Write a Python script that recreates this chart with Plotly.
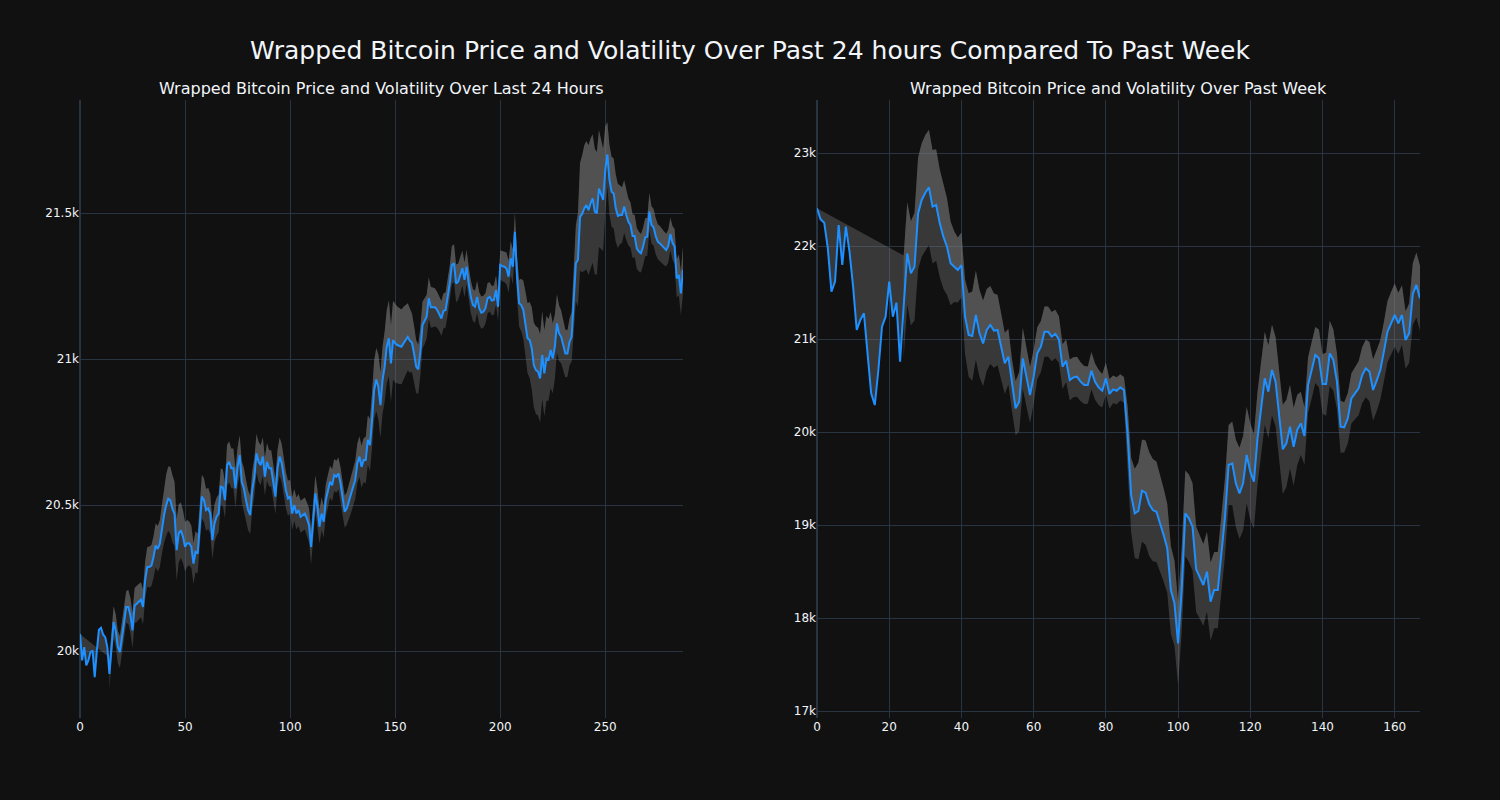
import plotly.graph_objects as go
from plotly.subplots import make_subplots

# ---- Last 24 hours (5-minute steps) ----
day_price = [
    20059, 19968, 20014, 19951, 19968, 19997, 20002, 19911, 20000, 20073,
    20080, 20057, 20048, 20014, 19922, 20025, 20099, 20071, 20014, 19997,
    20048, 20105, 20151, 20151, 20122, 20071, 20156, 20162, 20168, 20176,
    20151, 20242, 20288, 20288, 20293, 20322, 20362, 20350, 20368, 20419,
    20465, 20499, 20522, 20516, 20487, 20470, 20346, 20403, 20414, 20392,
    20357, 20369, 20369, 20357, 20300, 20340, 20334, 20426, 20529, 20517,
    20483, 20489, 20471, 20380, 20437, 20460, 20471, 20563, 20560, 20517,
    20637, 20648, 20626, 20626, 20557, 20631, 20671, 20580, 20557, 20517,
    20483, 20466, 20551, 20597, 20677, 20648, 20637, 20666, 20597, 20648,
    20626, 20626, 20580, 20529, 20626, 20666, 20643, 20597, 20551, 20523,
    20529, 20471, 20500, 20471, 20483, 20460, 20466, 20471, 20454, 20431,
    20357, 20449, 20540, 20494, 20426, 20471, 20443, 20517, 20546, 20580,
    20568, 20603, 20597, 20608, 20574, 20523, 20477, 20489, 20511, 20534,
    20563, 20586, 20643, 20666, 20631, 20654, 20654, 20723, 20705, 20791,
    20894, 20930, 20905, 20842, 20928, 20974, 21042, 21071, 20985, 21065,
    21054, 21048, 21045, 21042, 21054, 21065, 21076, 21063, 21056, 21019,
    20974, 20965, 21025, 21116, 21128, 21145, 21208, 21177, 21177, 21177,
    21168, 21156, 21139, 21165, 21168, 21213, 21259, 21322, 21328, 21259,
    21265, 21288, 21311, 21271, 21316, 21259, 21213, 21185, 21179, 21213,
    21174, 21159, 21162, 21174, 21208, 21213, 21200, 21202, 21236, 21179,
    21322, 21318, 21316, 21310, 21282, 21345, 21316, 21436, 21282, 21191,
    21185, 21168, 21122, 21071, 21065, 21037, 20979, 20962, 20957, 20934,
    21014, 20951, 21002, 20997, 21031, 21002, 21042, 21122, 21088, 21076,
    21048, 21019, 21019, 21059, 21076, 21200, 21328, 21340, 21487, 21497,
    21516, 21527, 21510, 21533, 21550, 21505, 21499, 21584, 21567, 21545,
    21647, 21701, 21613, 21573, 21567, 21516, 21490, 21493, 21493, 21522,
    21493, 21470, 21459, 21421, 21421, 21379, 21368, 21362, 21385, 21417,
    21419, 21505, 21459, 21451, 21421, 21402, 21396, 21387, 21379, 21373,
    21387, 21428, 21398, 21385, 21276, 21288, 21225, 21305,
]

# band half-width (volatility); None where the rolling window is not yet full
day_vol = [None] * 14 + [
    55, 55, 55, 55, 55, 55, 55,
    55, 55, 58, 60, 60, 60, 62, 62, 60, 60,
    65, 68, 70, 70, 72, 75, 78, 80, 85,
    95, 105, 110, 115, 115, 110, 105, 100,
    95, 90, 85, 80, 75, 72, 70, 70, 68, 70,
    75, 75, 72, 70, 68, 65, 65, 65, 65, 62, 62, 62,
    70, 70, 68, 68, 66, 65, 68, 70, 70, 70, 68, 66, 65, 65, 66,
    68, 68, 66, 65, 65, 62, 62, 60, 60, 62, 65, 66, 65, 62, 60,
    58, 56, 55, 55, 55, 55, 55, 55, 55, 58, 60,
    62, 62, 60, 58, 56, 55, 55, 55, 55, 55,
    55, 55, 55, 55, 55, 55, 56, 58, 60, 62, 65, 68, 70, 72,
    75, 80, 85, 90, 95, 100, 108, 112, 112, 115, 120,
    125, 130, 132, 135, 135, 132, 130, 128, 125, 120, 115, 110, 100, 95, 90,
    85, 82, 80, 78, 75, 72, 70, 68, 65, 62, 60, 60,
    60, 60, 62, 62, 65, 65, 65, 62, 62, 60, 60, 58, 58, 56, 55, 55, 55, 55,
    55, 55, 52, 52, 50, 50, 50, 50, 50, 50, 52, 52, 55, 55, 58, 60,
    65, 70, 80, 90, 100, 110, 120, 130, 140, 145, 150, 150, 152, 150, 148, 145, 140, 130, 120, 110,
    100, 95, 90, 85, 82, 80, 80, 85, 100,
    130, 160, 185, 200, 215, 220, 222, 222, 220, 215, 210, 200, 190, 175, 150,
    110, 120, 120, 120, 115, 110, 100, 95, 90, 85, 80, 78,
    75, 72, 70, 68, 66, 65, 65, 65, 64, 64, 63, 62, 60, 60, 58, 58, 56, 56, 56, 58, 60, 65, 70, 75, 80,
]

# ---- Past week (hourly steps) ----
week_price = [
    22405, 22287, 22251, 21975, 21509, 21617, 22226, 21796, 22208, 21939,
    21563, 21097, 21205, 21276, 20846, 20416, 20290, 20667, 21133, 21240,
    21617, 21240, 21391, 20756, 21348, 21921, 21706, 21778, 22351, 22495,
    22573, 22631, 22423, 22441, 22244, 22100, 21993, 21814, 21778, 21742,
    21796, 21240, 21043, 21032, 21258, 21061, 20953, 21097, 21151, 21090,
    21097, 20918, 20738, 20810, 20505, 20255, 20326, 20792, 20595, 20398,
    20595, 20846, 20918, 21079, 21079, 21025, 21054, 20996, 20703, 20767,
    20559, 20588, 20595, 20541, 20505, 20505, 20660, 20541, 20480, 20444,
    20577, 20409, 20459, 20444, 20480, 20452, 19986, 19323, 19126, 19151,
    19369, 19348, 19226, 19161, 19143, 19025, 18893, 18749, 18301, 18158,
    17728, 18301, 19126, 19072, 18982, 18524, 18445, 18355, 18498, 18176,
    18301, 18301, 18695, 19090, 19645, 19663, 19448, 19341, 19448, 19753,
    19574, 19466, 19932, 20273, 20577, 20434, 20667, 20541, 20201, 19814,
    19878, 20057, 19842, 20022, 20093, 19957, 20505, 20660, 20828, 20792,
    20516, 20516, 20846, 20774, 20541, 20057, 20050, 20147, 20362, 20416,
    20470, 20613, 20685, 20649, 20452, 20552, 20667, 20864, 21079, 21168,
    21258, 21168, 21258, 20989, 21061, 21484, 21581, 21437,
]

week_vol = [None] * 24 + [
    550, 550, 560, 580, 600, 610, 620, 620, 610, 600, 580, 560, 520, 450, 380, 350,
    350, 400, 450, 480, 480, 470, 460, 440, 420, 400,
    380, 360, 330, 300, 280, 290, 320, 330, 320, 300,
    290, 280, 275, 270, 270, 265, 260, 250, 240, 230,
    220, 215, 215, 210, 205, 200, 200, 195, 190, 180,
    170, 160, 150, 145, 140, 140, 300, 400, 480, 520,
    550, 560, 560, 550, 540, 520, 500, 480, 470, 460,
    450, 450, 460, 470, 470, 460, 450, 440, 430, 420,
    410, 410, 410, 420, 430, 450, 470, 490, 510, 520,
    520, 510, 500, 500, 500, 500, 490, 480, 480, 480,
    470, 450, 420, 380, 340, 310, 300, 300, 300, 310,
    320, 340, 350, 330, 300, 280, 270, 270, 270, 280,
    290, 300, 310, 320, 330, 330, 320, 320, 330, 340,
    340, 330, 320, 310, 320, 330, 350, 350,
]

LINE = "#1E90FF"
FILL = "rgba(128,128,128,0.35)"
FONT = "DejaVu Sans"

fig = make_subplots(
    rows=1, cols=2, horizontal_spacing=0.1,
    subplot_titles=(
        "Wrapped Bitcoin Price and Volatility Over Last 24 Hours",
        "Wrapped Bitcoin Price and Volatility Over Past Week",
    ),
)


def add_panel(col, price, vol):
    xs = list(range(len(price)))
    first = next(i for i, v in enumerate(vol) if v is not None)
    bx = xs[first:]
    upper = [p + v for p, v in zip(price[first:], vol[first:])]
    lower = [p - v for p, v in zip(price[first:], vol[first:])]
    # fill between the price line and the upper band (reaches back to the first price)
    fig.add_trace(go.Scatter(x=bx + xs[::-1], y=upper + price[::-1], mode="lines",
                             line=dict(width=0), fill="toself", fillcolor=FILL,
                             hoverinfo="skip", showlegend=False), row=1, col=col)
    # fill between the upper and lower bands
    fig.add_trace(go.Scatter(x=bx + bx[::-1], y=upper + lower[::-1], mode="lines",
                             line=dict(width=0), fill="toself", fillcolor=FILL,
                             hoverinfo="skip", showlegend=False), row=1, col=col)
    fig.add_trace(go.Scatter(x=xs, y=price, mode="lines",
                             line=dict(color=LINE, width=2), showlegend=False),
                  row=1, col=col)


add_panel(1, day_price, day_vol)
add_panel(2, week_price, week_vol)

fig.update_layout(
    template="plotly_dark",
    width=1500, height=800,
    paper_bgcolor="#111111", plot_bgcolor="#111111",
    font=dict(family=FONT),
    title=dict(text="Wrapped Bitcoin Price and Volatility Over Past 24 hours Compared To Past Week",
               x=0.5, xanchor="center", y=0.948, font=dict(size=25, family=FONT)),
    margin=dict(l=80, r=80, t=100, b=82),
    showlegend=False,
)
fig.update_annotations(font=dict(size=16, family=FONT))
fig.update_xaxes(range=[0, 287], row=1, col=1)
fig.update_xaxes(range=[0, 167], row=1, col=2)
fig.update_yaxes(range=[19771, 21887], row=1, col=1)
fig.update_yaxes(range=[16925, 23570], row=1, col=2)

fig.write_html("out.html", config={"displayModeBar": False},
               post_script="document.body.style.margin='0';")
